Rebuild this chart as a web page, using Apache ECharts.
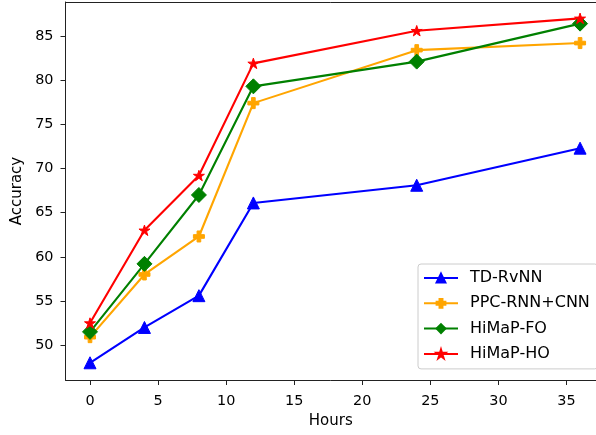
<!DOCTYPE html>
<html>
<head>
<meta charset="utf-8">
<script src="https://cdn.jsdelivr.net/npm/echarts@6/dist/echarts.min.js"></script>
<style>html,body{margin:0;padding:0;background:#fff}#c{width:596px;height:435px}</style>
</head>
<body>
<div id="c"></div>
<script>
var hours = [0, 4, 8, 12, 24, 36];
var tdRvNN = [48.0, 52.0, 55.6, 66.1, 68.1, 72.3];
var ppcRnnCnn = [50.9, 58.0, 62.3, 77.4, 83.4, 84.2];
var himapFO = [51.5, 59.2, 67.0, 79.3, 82.1, 86.4];
var himapHO = [52.5, 63.0, 69.2, 81.9, 85.6, 87.0];
var xTicks = [0, 5, 10, 15, 20, 25, 30, 35];
var yTicks = [50, 55, 60, 65, 70, 75, 80, 85];
var seriesNames = ['TD-RvNN', 'PPC-RNN+CNN', 'HiMaP-FO', 'HiMaP-HO'];

var PLUS = 'path://M-1,-3H1V-1H3V1H1V3H-1V1H-3V-1H-1Z';
var STAR = 'path://M0,-1L0.2245,-0.309L0.9511,-0.309L0.3633,0.118L0.5878,0.809L0,0.382L-0.5878,0.809L-0.3633,0.118L-0.9511,-0.309L-0.2245,-0.309Z';

function pairs(vals){ return hours.map(function(h,i){ return [h, vals[i]]; }); }
var FONT = 'DejaVu Sans';
function mk(name, vals, color, symbol, size){
  return {
    name: name, type: 'line', data: pairs(vals),
    symbol: symbol, symbolSize: size, symbolKeepAspect: true,
    lineStyle: {color: color, width: 2.1},
    itemStyle: {color: color, borderColor: color, borderWidth: 1},
    showAllSymbol: true, animation: false
  };
}
var chart = echarts.init(document.getElementById('c'), null, {renderer: 'canvas'});
chart.setOption({
  backgroundColor: '#fff',
  animation: false,
  grid: {left: 65.5, top: 2, right: 0, bottom: 55, show: false},
  xAxis: [{
    type: 'value', min: -1.8, max: 37.17,
    name: 'Hours', nameLocation: 'middle', nameGap: 34,
    nameTextStyle: {fontFamily: FONT, fontSize: 15, color: '#000'},
    axisLine: {show: true, onZero: false, lineStyle: {color: '#222', width: 1}},
    axisTick: {show: true, length: 5, customValues: xTicks, lineStyle: {color: '#222'}},
    axisLabel: {customValues: xTicks, fontFamily: FONT, fontSize: 14.4, color: '#000', margin: 14},
    splitLine: {show: false}
  }, {
    type: 'value', position: 'top', min: -1.8, max: 37.17,
    axisLine: {show: true, onZero: false, lineStyle: {color: '#222', width: 1}},
    axisTick: {show: false}, axisLabel: {show: false}, splitLine: {show: false}
  }],
  yAxis: {
    type: 'value', min: 46.05, max: 88.85,
    name: 'Accuracy', nameLocation: 'middle', nameGap: 36,
    nameTextStyle: {fontFamily: FONT, fontSize: 15, color: '#000'},
    axisLine: {show: true, onZero: false, lineStyle: {color: '#222', width: 1}},
    axisTick: {show: true, length: 5, customValues: yTicks, lineStyle: {color: '#222'}},
    axisLabel: {customValues: yTicks, fontFamily: FONT, fontSize: 14.4, color: '#000', margin: 12},
    splitLine: {show: false}
  },
  legend: {
    orient: 'vertical', left: 418, top: 264,
    data: seriesNames,
    itemWidth: 34, itemHeight: 11, itemGap: 9.3,
    padding: [6, 8, 7, 5],
    backgroundColor: 'rgba(255,255,255,0.8)', borderColor: '#ccc', borderWidth: 1, borderRadius: 3,
    textStyle: {fontFamily: FONT, fontSize: 16, color: '#000', padding: [0, 0, 0, 7]}
  },
  series: [
    mk(seriesNames[0], tdRvNN, '#0000ff', 'triangle', 12),
    mk(seriesNames[1], ppcRnnCnn, '#ffa500', PLUS, 11),
    mk(seriesNames[2], himapFO, '#008000', 'diamond', 15),
    mk(seriesNames[3], himapHO, '#ff0000', STAR, 11)
  ]
});
</script>
</body>
</html>
